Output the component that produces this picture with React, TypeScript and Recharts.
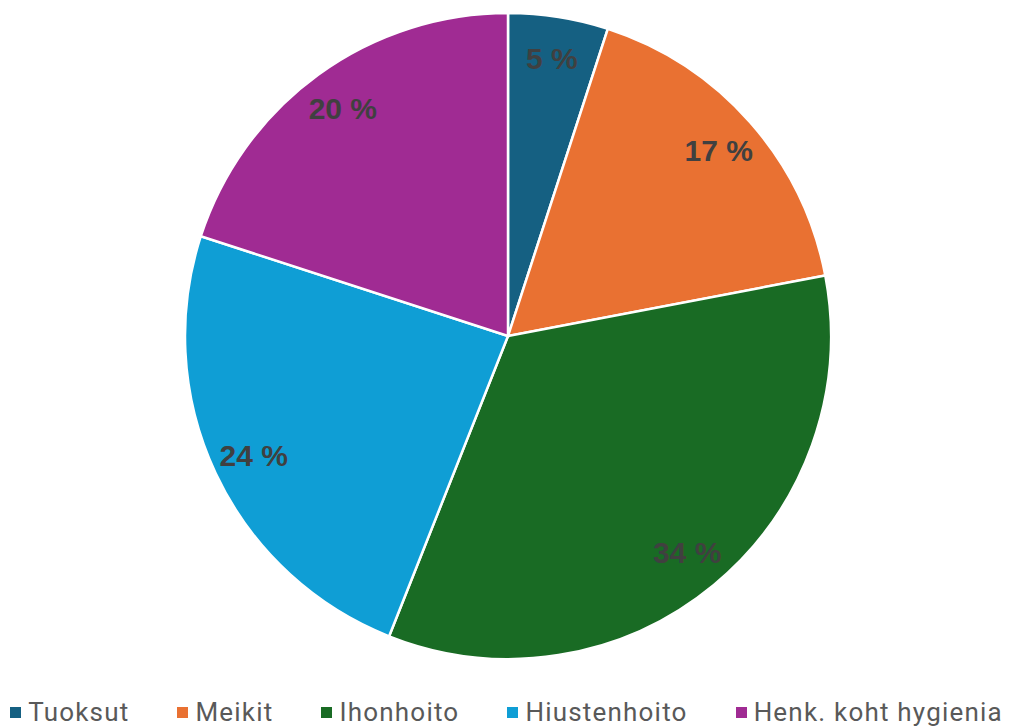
import { Pie, PieChart, Cell, Legend } from 'recharts'

const categories = ['Tuoksut', 'Meikit', 'Ihonhoito', 'Hiustenhoito', 'Henk. koht hygienia']
const shares = [5, 17, 34, 24, 20]
const colors = ['#156082', '#E97132', '#196B24', '#0F9ED5', '#A02B93']

const data = categories.map((name, i) => ({ name, value: shares[i] }))

const RAD = Math.PI / 180

function renderLabel(props: any) {
  const { cx, cy, midAngle, outerRadius, value } = props
  const r = outerRadius * 0.87
  const x = cx + r * Math.cos(-midAngle * RAD)
  const y = cy + r * Math.sin(-midAngle * RAD)
  return (
    <text
      x={x}
      y={y}
      fill="#404040"
      textAnchor="middle"
      dominantBaseline="central"
      fontFamily="'Liberation Sans', Arial, sans-serif"
      fontWeight="bold"
      fontSize={30}
    >
      {`${value} %`}
    </text>
  )
}

function renderLegend() {
  return (
    <div
      style={{
        display: 'flex',
        justifyContent: 'center',
        gap: 48,
        fontFamily: 'Roboto, sans-serif',
        fontSize: 26,
        letterSpacing: 1.2,
        color: '#595959',
      }}
    >
      {data.map((d, i) => (
        <div key={d.name} style={{ display: 'flex', alignItems: 'center' }}>
          <span
            style={{
              width: 11,
              height: 11,
              background: colors[i],
              display: 'inline-block',
              marginRight: 7,
            }}
          />
          <span>{d.name}</span>
        </div>
      ))}
    </div>
  )
}

export default function App() {
  return (
    <div style={{ position: 'absolute', left: 0, top: 0, width: 1013, height: 727, background: '#fff' }}>
      <PieChart width={1013} height={727} margin={{ top: 0, right: 0, bottom: 0, left: 0 }}>
        <Pie
          data={data}
          dataKey="value"
          nameKey="name"
          cx={508}
          cy={336}
          outerRadius={323}
          startAngle={90}
          endAngle={-270}
          stroke="#ffffff"
          strokeWidth={2.5}
          label={renderLabel}
          labelLine={false}
          isAnimationActive={false}
        >
          {data.map((d, i) => (
            <Cell key={d.name} fill={colors[i]} />
          ))}
        </Pie>
        <Legend
          content={renderLegend}
          verticalAlign="bottom"
          wrapperStyle={{ left: 0, width: 1013, bottom: -4, height: 34 }}
        />
      </PieChart>
    </div>
  )
}
